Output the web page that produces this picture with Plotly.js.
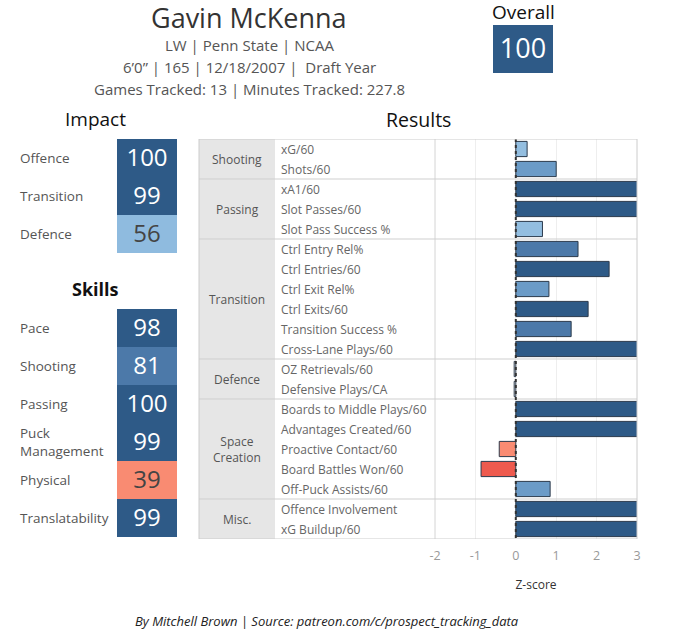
<!DOCTYPE html>
<html>
<head>
<meta charset="utf-8">
<script src="https://cdn.plot.ly/plotly-3.0.1.min.js"></script>
<style>
  html, body { margin: 0; padding: 0; background: #fff; }
  #chart { width: 696px; height: 635px; }
</style>
</head>
<body>
<div id="chart"></div>
<script>
// ---- Player card data ----
const playerName = 'Gavin McKenna';
const infoLines = [
  'LW | Penn State | NCAA',
  '6\u20190\u201d | 165 | 12/18/2007 |  Draft Year',
  'Games Tracked: 13 | Minutes Tracked: 227.8'
];
const overallRating = 100;

const impactLabels = ['Offence', 'Transition', 'Defence'];
const impactRatings = [100, 99, 56];

const skillLabels = ['Pace', 'Shooting', 'Passing', 'Puck<br>Management', 'Physical', 'Translatability'];
const skillRatings = [98, 81, 100, 99, 39, 99];

// ---- Results table ----
const groupNames = ['Shooting', 'Passing', 'Transition', 'Defence', 'Space<br>Creation', 'Misc.'];
const groupSizes = [2, 3, 6, 2, 5, 2];
const metrics = [
  'xG/60', 'Shots/60',
  'xA1/60', 'Slot Passes/60', 'Slot Pass Success %',
  'Ctrl Entry Rel%', 'Ctrl Entries/60', 'Ctrl Exit Rel%', 'Ctrl Exits/60', 'Transition Success %', 'Cross-Lane Plays/60',
  'OZ Retrievals/60', 'Defensive Plays/CA',
  'Boards to Middle Plays/60', 'Advantages Created/60', 'Proactive Contact/60', 'Board Battles Won/60', 'Off-Puck Assists/60',
  'Offence Involvement', 'xG Buildup/60'
];
// z-scores; values above 3 run past the axis cap
const zScores = [
  0.28, 1.00,
  3.50, 3.50, 0.66,
  1.54, 2.31, 0.82, 1.79, 1.37, 3.50,
  -0.04, -0.04,
  3.50, 3.50, -0.41, -0.86, 0.85,
  3.50, 3.50
];
const zTicks = [-2, -1, 0, 1, 2, 3];
const zTickText = ['-2', '-1', '0', '1', '2', '3'];

// ---- palette ----
const C = {
  dark: '#2e5a87', mid: '#4c79a9', soft: '#6b9bc7', pale: '#93bee0',
  white: '#f7f7f7', salmon: '#f98b72', red: '#ee5a4e'
};
function barColor(v) {
  if (v >= 1.75) return C.dark;
  if (v >= 1.3) return C.mid;
  if (v >= 0.75) return C.soft;
  if (v >= 0.1) return C.pale;
  if (v > -0.1) return C.white;
  if (v > -0.6) return C.salmon;
  return C.red;
}
// stepped rating scale on 0..100
const ratingScale = [
  [0, C.red], [0.3, C.red], [0.3, C.salmon], [0.5, C.salmon],
  [0.5, '#8fbbdf'], [0.7, '#8fbbdf'], [0.7, C.mid], [0.9, C.mid],
  [0.9, C.dark], [1, C.dark]
];

// ---- geometry helpers (pixels -> paper) ----
const W = 696, H = 635;
const px = x => x / W;
const py = y => 1 - y / H;

const FONT = '"Open Sans", "Noto Sans", sans-serif';
const NUMFONT = '"Open Sans", "Noto Sans", sans-serif';

// ---- traces ----
const barTrace = {
  type: 'bar', orientation: 'h',
  x: zScores, y: metrics,
  xaxis: 'x', yaxis: 'y',
  width: 0.76,
  marker: { color: zScores.map(barColor), line: { color: '#2b3a4c', width: 1 } },
  hoverinfo: 'x+y'
};

function ratingHeatmap(labels, ratings, xa, ya, size) {
  return {
    type: 'heatmap',
    x: ['r'], y: labels,
    z: ratings.map(v => [v]),
    xaxis: xa, yaxis: ya,
    zmin: 0, zmax: 100,
    colorscale: ratingScale, showscale: false,
    texttemplate: '%{z}',
    textfont: { family: NUMFONT, size: size },
    hoverinfo: 'y+z'
  };
}

const traces = [
  barTrace,
  ratingHeatmap(impactLabels, impactRatings, 'x2', 'y2', 24),
  ratingHeatmap(skillLabels, skillRatings, 'x3', 'y3', 24),
  ratingHeatmap(['Overall'], [overallRating], 'x4', 'y4', 27)
];

// ---- table row structure ----
const groupStart = [];
groupSizes.reduce((acc, n) => { groupStart.push(acc); return acc + n; }, 0);
const nRows = metrics.length;

const shapes = [];
// group column fill
shapes.push({ type: 'rect', xref: 'paper', yref: 'y', x0: px(199), x1: px(275), y0: -0.5, y1: nRows - 0.5,
  fillcolor: '#e6e6e6', line: { width: 0 }, layer: 'below' });
// divider between labels and bars
shapes.push({ type: 'line', xref: 'paper', yref: 'y', x0: px(435), x1: px(435), y0: -0.5, y1: nRows - 0.5,
  line: { color: '#d4d4d4', width: 1 }, layer: 'below' });
// group separators
groupStart.slice(1).forEach(s => {
  shapes.push({ type: 'line', xref: 'paper', yref: 'y', x0: px(199), x1: px(637), y0: s - 0.5, y1: s - 0.5,
    line: { color: '#cfcfcf', width: 1 }, layer: 'above' });
});
// zero reference
shapes.push({ type: 'line', xref: 'x', yref: 'y', x0: 0, x1: 0, y0: -0.5, y1: nRows - 0.5,
  line: { color: '#333', width: 2, dash: 'dot' }, layer: 'above' });
// table frame
shapes.push({ type: 'rect', xref: 'paper', yref: 'y', x0: px(199), x1: px(637), y0: -0.5, y1: nRows - 0.5,
  line: { color: '#cccccc', width: 1 }, fillcolor: 'rgba(0,0,0,0)', layer: 'above' });

// ---- text ----
const annotations = [];
function note(text, x, y, opts) {
  annotations.push(Object.assign({
    text: text, x: px(x), y: py(y), xref: 'paper', yref: 'paper',
    showarrow: false, xanchor: 'center', yanchor: 'middle',
    font: { family: FONT, size: 14, color: '#444' }
  }, opts || {}));
}
note(playerName, 249, 17, { font: { family: FONT, size: 27, color: '#333' } });
infoLines.forEach((t, i) => note(t, 249, 45 + i * 22, { font: { family: FONT, size: 15, color: '#555' } }));
note('Overall', 523, 12, { font: { family: FONT, size: 19, color: '#111' } });
note('Impact', 95, 119, { font: { family: FONT, size: 19, color: '#111' } });
note('<b>Skills</b>', 95, 289, { font: { family: FONT, size: 18, color: '#111' } });
note('Results', 418, 119, { font: { family: FONT, size: 19.5, color: '#111' } });
note('<i>By Mitchell Brown | Source: patreon.com/c/prospect_tracking_data</i>', 327, 621,
  { font: { family: FONT, size: 13, color: '#222' } });

impactLabels.forEach(l => annotations.push({
  text: l, xref: 'paper', yref: 'y2', x: px(18), y: l, xanchor: 'left', yanchor: 'middle',
  showarrow: false, align: 'left', font: { family: FONT, size: 13.5, color: '#555' }
}));
skillLabels.forEach(l => annotations.push({
  text: l, xref: 'paper', yref: 'y3', x: px(18), y: l, xanchor: 'left', yanchor: 'middle',
  showarrow: false, align: 'left', font: { family: FONT, size: 13.5, color: '#555' }
}));
metrics.forEach(m => annotations.push({
  text: m, xref: 'paper', yref: 'y', x: px(279), y: m, xanchor: 'left', yanchor: 'middle',
  showarrow: false, align: 'left', font: { family: FONT, size: 12, color: '#666' }
}));
groupNames.forEach((g, i) => annotations.push({
  text: g, xref: 'paper', yref: 'y', x: px(237), y: groupStart[i] + (groupSizes[i] - 1) / 2,
  xanchor: 'center', yanchor: 'middle', showarrow: false, align: 'center',
  font: { family: FONT, size: 12, color: '#555' }
}));

const hidden = { showticklabels: false, showgrid: false, zeroline: false, showline: false, ticks: '', fixedrange: true };

const layout = {
  width: W, height: H,
  margin: { l: 0, r: 0, t: 0, b: 0 },
  paper_bgcolor: '#fff', plot_bgcolor: 'rgba(0,0,0,0)',
  showlegend: false,
  font: { family: FONT },
  xaxis: {
    domain: [px(435), px(637)], range: [-2, 3],
    tickvals: zTicks, ticktext: zTickText, ticks: '', ticklabelstandoff: 7,
    tickfont: { family: FONT, size: 12.5, color: '#999' },
    showgrid: true, gridcolor: '#eeeeee', zeroline: false, showline: false, fixedrange: true,
    title: { text: 'Z-score', standoff: 18, font: { family: FONT, size: 12, color: '#333' } }
  },
  yaxis: Object.assign({ domain: [py(539), py(139)], type: 'category', range: [nRows - 0.5, -0.5] }, hidden),
  xaxis2: Object.assign({ domain: [px(117), px(177)], anchor: 'y2' }, hidden),
  yaxis2: Object.assign({ domain: [py(253), py(139)], anchor: 'x2', autorange: 'reversed' }, hidden),
  xaxis3: Object.assign({ domain: [px(117), px(177)], anchor: 'y3' }, hidden),
  yaxis3: Object.assign({ domain: [py(537), py(309)], anchor: 'x3', autorange: 'reversed' }, hidden),
  xaxis4: Object.assign({ domain: [px(493), px(553)], anchor: 'y4' }, hidden),
  yaxis4: Object.assign({ domain: [py(73), py(25)], anchor: 'x4' }, hidden),
  shapes: shapes,
  annotations: annotations
};

Plotly.newPlot('chart', traces, layout, { displayModeBar: false, staticPlot: true });
</script>
</body>
</html>
